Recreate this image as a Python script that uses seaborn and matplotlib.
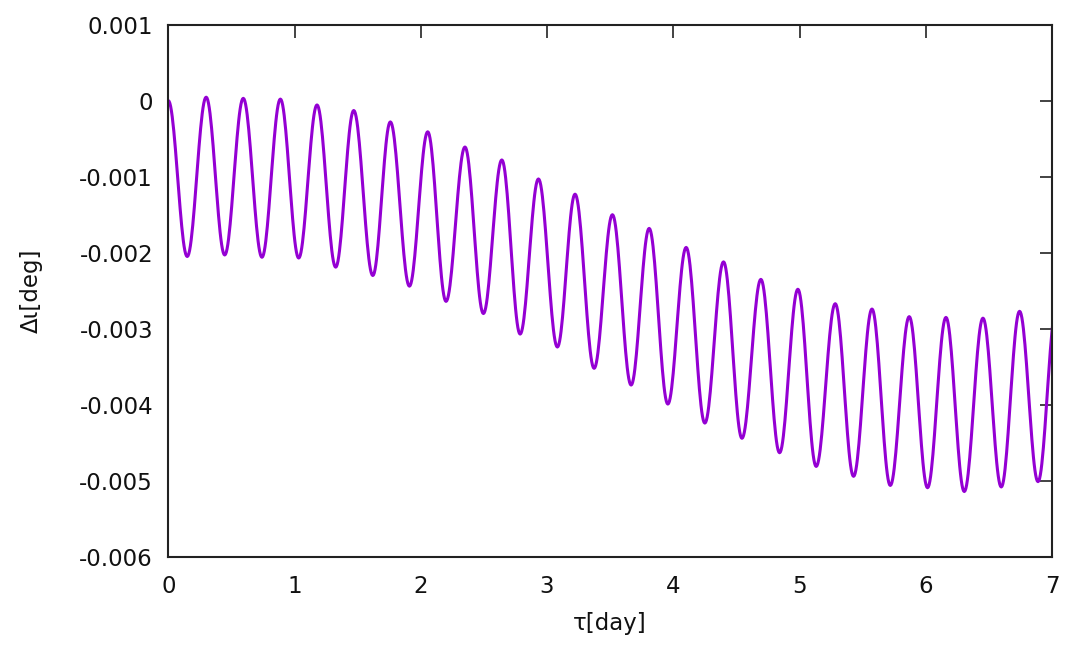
import numpy as np
import pandas as pd
import matplotlib
matplotlib.use("Agg")
import matplotlib.pyplot as plt
import seaborn as sns

# Turning points (alternating peak / trough)
t_ext = [0.0, 0.150, 0.300, 0.447, 0.594, 0.742, 0.888, 1.033, 1.178, 1.326,
         1.469, 1.620, 1.759, 1.910, 2.055, 2.200, 2.350, 2.496, 2.642, 2.787,
         2.932, 3.082, 3.222, 3.373, 3.518, 3.666, 3.809, 3.957, 4.102, 4.250,
         4.398, 4.544, 4.694, 4.842, 4.987, 5.132, 5.283, 5.428, 5.574, 5.719,
         5.869, 6.014, 6.160, 6.305, 6.453, 6.598, 6.743, 6.889, 7.035]
v_ext = [0.0, -0.00205, 0.000045, -0.00203, 0.00003, -0.00206, 0.00002, -0.00207,
         -0.000057, -0.00219, -0.00013, -0.00230, -0.00028, -0.00244, -0.00041,
         -0.00264, -0.00061, -0.00280, -0.00078, -0.00307, -0.00103, -0.00324,
         -0.00123, -0.00352, -0.00150, -0.00374, -0.00168, -0.00399, -0.00193,
         -0.00424, -0.00212, -0.00444, -0.00235, -0.00463, -0.00248, -0.00481,
         -0.00267, -0.00494, -0.00274, -0.00506, -0.00284, -0.00509, -0.00285,
         -0.00514, -0.00286, -0.00508, -0.00277, -0.00501, -0.00272]

x_ticks = [0, 1, 2, 3, 4, 5, 6, 7]
y_ticks = [0.001, 0, -0.001, -0.002, -0.003, -0.004, -0.005, -0.006]
y_tick_labels = ["0.001", "0", "-0.001", "-0.002", "-0.003", "-0.004", "-0.005", "-0.006"]
x_label = "τ[day]"
y_label = "Δι[deg]"

# smooth the line between turning points with half-cosine segments (line rendering)
ts, vs = [], []
s = np.linspace(0, 1, 25)
for i in range(len(t_ext) - 1):
    t0, t1 = t_ext[i], t_ext[i + 1]
    v0, v1 = v_ext[i], v_ext[i + 1]
    ts.extend(t0 + (t1 - t0) * s[:-1])
    vs.extend(v0 + (v1 - v0) * (1 - np.cos(np.pi * s[:-1])) / 2)
ts.append(t_ext[-1]); vs.append(v_ext[-1])
df = pd.DataFrame({"t": ts, "v": vs})

sns.set_theme(style="white")
plt.rcParams['font.family'] = ['DejaVu Sans']

fig = plt.figure(figsize=(10.85, 6.49), dpi=100)
ax = fig.add_axes([0.1551, 0.1418, 0.8145, 0.8204])
sns.lineplot(data=df, x="t", y="v", ax=ax, color="#9400d3", linewidth=2.2,
             sort=False, estimator=None)

ax.set_xlim(0, 7)
ax.set_ylim(-0.006, 0.001)
ax.set_xticks(x_ticks)
ax.set_xticklabels([str(x) for x in x_ticks])
ax.set_yticks(y_ticks)
ax.set_yticklabels(y_tick_labels)

for sp in ax.spines.values():
    sp.set_visible(True)
    sp.set_color("#222222")
    sp.set_linewidth(1.5)

ax.tick_params(axis="both", which="both", direction="in", length=9, width=1.2,
               color="#222222", top=True, right=True, labelsize=16.5,
               labelcolor="#111111")
ax.tick_params(axis="y", pad=11)
ax.tick_params(axis="x", pad=13)

ax.set_xlabel(x_label, fontsize=16.5, color="#111111", labelpad=10)
ax.set_ylabel(y_label, fontsize=16.5, color="#111111", labelpad=26)

fig.savefig("out.png", dpi=100)
